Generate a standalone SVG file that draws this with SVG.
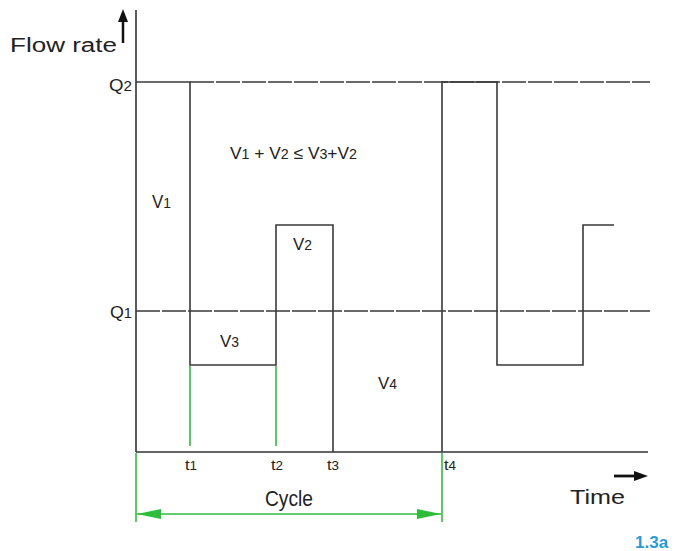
<svg xmlns="http://www.w3.org/2000/svg" width="677" height="551" viewBox="0 0 677 551">
<style>
.ax{stroke:#333;stroke-width:1.6;fill:none}
.wave{stroke:#3a3a3a;stroke-width:1.6;fill:none}
.dash{stroke:#3a3a3a;stroke-width:1.4;stroke-dasharray:24 2;fill:none}
.grn{stroke:#2ebd3a;stroke-width:1.6;fill:none}
.t{font-family:"Liberation Sans Narrow","Liberation Sans",Arial,sans-serif;fill:#222}
.s{font-size:82%}
</style>
<defs>
<marker id="ga" viewBox="0 0 24 10" refX="24" refY="5" markerWidth="24" markerHeight="10" orient="auto-start-reverse" markerUnits="userSpaceOnUse">
<path d="M0,0 L24,5 L0,10 z" fill="#2ebd3a"/>
</marker>
</defs>
<rect width="677" height="551" fill="#fff"/>
<g id="axes">
<line class="ax" x1="136" y1="10" x2="136" y2="452"/>
<line class="ax" x1="136" y1="452" x2="648" y2="452"/>
<line class="dash" x1="190" y1="82" x2="650" y2="82"/>
<line class="dash" x1="136" y1="311" x2="650" y2="311"/>
<path d="M123,43 L123,18" stroke="#111" stroke-width="2.5"/>
<path d="M118,22 L123,9 L128,22 z" fill="#111"/>
<path d="M614,476 L638,476" stroke="#111" stroke-width="2.8"/>
<path d="M634,471 L648,476 L634,481 z" fill="#111"/>
</g>
<g id="waveform">
<path class="wave" d="M136,82 L190,82 L190,365 L276,365 L276,225 L333,225 L333,452"/>
<path class="wave" d="M442,452 L442,82 L497,82 L497,365 L583,365 L583,225 L614,225"/>
</g>
<g id="connectors">
<line class="grn" x1="190" y1="366" x2="190" y2="446"/>
<line class="grn" x1="276" y1="366" x2="276" y2="446"/>
<line class="grn" x1="136" y1="453" x2="136" y2="522"/>
<line class="grn" x1="442" y1="453" x2="442" y2="522"/>
<line class="grn" x1="137" y1="514" x2="441" y2="514" stroke-width="2" marker-start="url(#ga)" marker-end="url(#ga)"/>
</g>
<g id="labels">
<text class="t" x="10" y="52" font-size="20" textLength="107" lengthAdjust="spacingAndGlyphs" font-family="Liberation Sans,Arial,sans-serif">Flow rate</text>
<text class="t" x="109" y="91" font-size="17" textLength="23" lengthAdjust="spacingAndGlyphs">Q<tspan class="s">2</tspan></text>
<text class="t" x="110" y="318" font-size="17" textLength="22" lengthAdjust="spacingAndGlyphs">Q<tspan class="s">1</tspan></text>
<text class="t" x="152" y="208" font-size="18" textLength="19" lengthAdjust="spacingAndGlyphs">V<tspan class="s">1</tspan></text>
<text class="t" x="230" y="159" font-size="17" textLength="127" lengthAdjust="spacingAndGlyphs">V<tspan class="s">1</tspan> + V<tspan class="s">2</tspan> ≤ V<tspan class="s">3</tspan>+V<tspan class="s">2</tspan></text>
<text class="t" x="293" y="250" font-size="17" textLength="19" lengthAdjust="spacingAndGlyphs">V<tspan class="s">2</tspan></text>
<text class="t" x="220" y="347" font-size="17" textLength="19" lengthAdjust="spacingAndGlyphs">V<tspan class="s">3</tspan></text>
<text class="t" x="378" y="389" font-size="17" textLength="19" lengthAdjust="spacingAndGlyphs">V<tspan class="s">4</tspan></text>
<text class="t" x="185" y="470" font-size="15" textLength="12" lengthAdjust="spacingAndGlyphs">t<tspan class="s">1</tspan></text>
<text class="t" x="271" y="470" font-size="15" textLength="12" lengthAdjust="spacingAndGlyphs">t<tspan class="s">2</tspan></text>
<text class="t" x="327" y="470" font-size="15" textLength="12" lengthAdjust="spacingAndGlyphs">t<tspan class="s">3</tspan></text>
<text class="t" x="444" y="470" font-size="15" textLength="12" lengthAdjust="spacingAndGlyphs">t<tspan class="s">4</tspan></text>
<text class="t" x="265" y="506" font-size="22" textLength="48" lengthAdjust="spacingAndGlyphs">Cycle</text>
<text class="t" x="570" y="504" font-size="21" textLength="55" lengthAdjust="spacingAndGlyphs" font-family="Liberation Sans,Arial,sans-serif">Time</text>
<text x="635" y="548" font-size="17" font-weight="bold" font-family="Liberation Sans,Arial,sans-serif" fill="#2b9ad6">1.3a</text>
</g>
</svg>
